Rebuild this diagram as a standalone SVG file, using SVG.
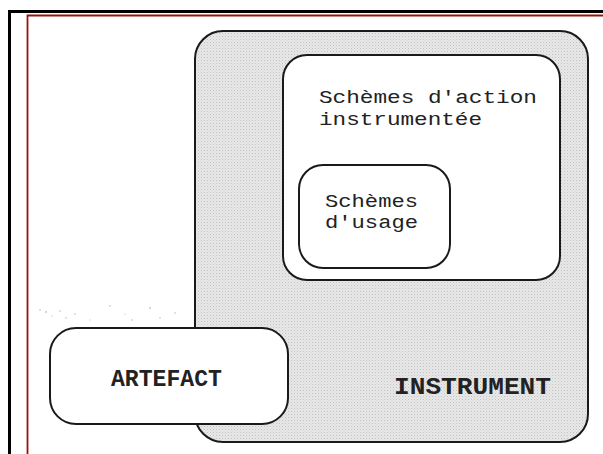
<svg xmlns="http://www.w3.org/2000/svg" width="603" height="454" viewBox="0 0 603 454">
<style>
.box{stroke:#1a1a1a;stroke-width:2}
.t{font-family:"Liberation Mono","Courier New",monospace;fill:#222;font-size:19px}
.b{font-family:"Liberation Mono","Courier New",monospace;fill:#222;font-weight:bold;font-size:23px}
</style>
<defs>
<pattern id="dots" width="3" height="3" patternUnits="userSpaceOnUse">
<rect width="3" height="3" fill="#e8e8e8"/>
<rect width="1" height="1" fill="#c2c2c2"/>
<rect x="1.5" y="1.5" width="1" height="1" fill="#d2d2d2"/>
</pattern>
</defs>
<rect width="603" height="454" fill="#fff"/>
<g id="frame">
<path d="M9.5 454 V11.5 H603" fill="none" stroke="#000" stroke-width="3"/>
<path d="M27.5 454 V15.5 H603" fill="none" stroke="#9a1010" stroke-width="1.8"/>
</g>
<g id="noise" fill="#c0c0c0" opacity="0.6">
<circle cx="40" cy="310" r="1"/><circle cx="46" cy="312" r="1.2"/><circle cx="52" cy="316" r="0.8"/><circle cx="60" cy="311" r="1"/><circle cx="66" cy="318" r="0.9"/><circle cx="75" cy="314" r="1"/><circle cx="90" cy="320" r="0.8"/><circle cx="110" cy="306" r="1"/><circle cx="125" cy="314" r="0.8"/><circle cx="150" cy="308" r="1.2"/><circle cx="160" cy="318" r="0.9"/><circle cx="175" cy="313" r="1"/><circle cx="132" cy="320" r="1"/>
</g>
<g id="instrument">
<rect class="box" x="195" y="31" width="393" height="411" rx="28" fill="url(#dots)"/>
<text class="b" x="394" y="394" textLength="157" lengthAdjust="spacingAndGlyphs">INSTRUMENT</text>
</g>
<g id="action">
<rect class="box" x="283" y="55" width="277" height="225" rx="24" fill="#fff"/>
<text class="t" x="319" y="103" textLength="218" lengthAdjust="spacingAndGlyphs">Schèmes d'action</text>
<text class="t" x="319" y="125" textLength="163" lengthAdjust="spacingAndGlyphs">instrumentée</text>
</g>
<g id="usage">
<rect class="box" x="299" y="165" width="151" height="103" rx="24" fill="#fff"/>
<text class="t" x="325" y="207" textLength="93" lengthAdjust="spacingAndGlyphs">Schèmes</text>
<text class="t" x="325" y="228" textLength="93" lengthAdjust="spacingAndGlyphs">d'usage</text>
</g>
<g id="artefact">
<rect class="box" x="50" y="328" width="238" height="96" rx="26" fill="#fff"/>
<text class="b" x="111" y="386" textLength="111" lengthAdjust="spacingAndGlyphs">ARTEFACT</text>
</g>
<g id="connectors"/>
</svg>
